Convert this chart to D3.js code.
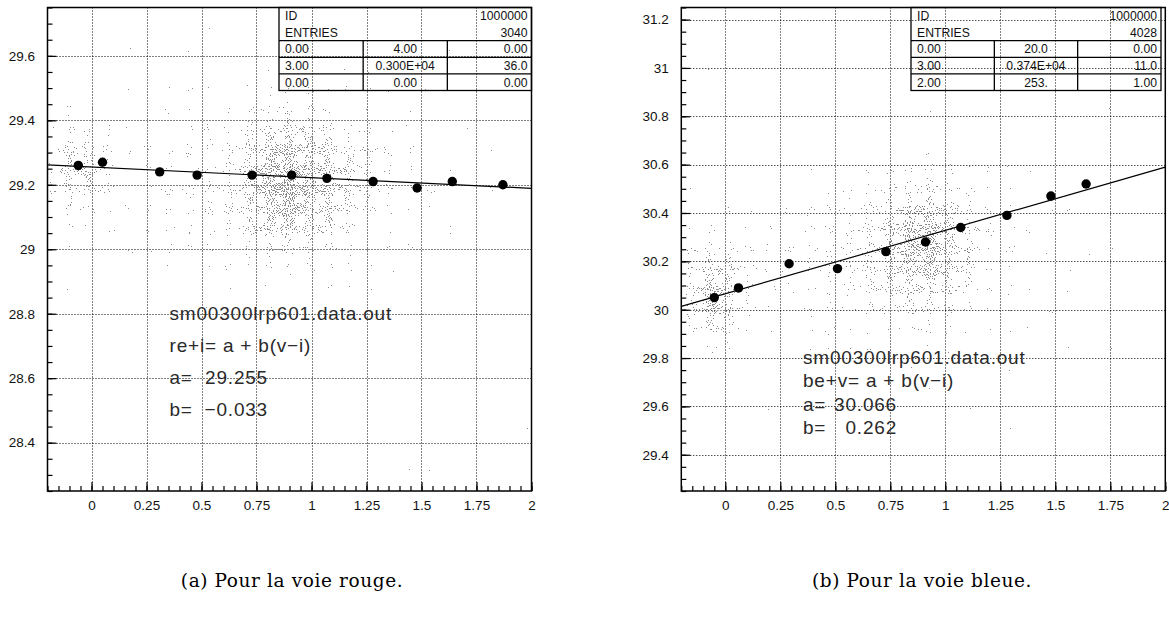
<!DOCTYPE html>
<html><head><meta charset="utf-8">
<script src="https://cdn.jsdelivr.net/npm/d3@7"></script>
<style>
body{margin:0;background:#fff;}
svg{display:block;}
</style></head>
<body>
<script>
// ---------- data ----------
const xDomain = [-0.2, 2];
const xTicks = [0, 0.25, 0.5, 0.75, 1, 1.25, 1.5, 1.75, 2];
const xTickLabels = ["0", "0.25", "0.5", "0.75", "1", "1.25", "1.5", "1.75", "2"];

// panel (a) voie rouge
const yDomainA = [28.25, 29.75];
const yTicksA = [28.4, 28.6, 28.8, 29, 29.2, 29.4, 29.6];
const yTickLabelsA = ["28.4", "28.6", "28.8", "29", "29.2", "29.4", "29.6"];
const pointsAx = [-0.06, 0.05, 0.31, 0.48, 0.73, 0.91, 1.07, 1.28, 1.48, 1.64, 1.87];
const pointsAy = [29.26, 29.27, 29.24, 29.23, 29.23, 29.23, 29.22, 29.21, 29.19, 29.21, 29.20];
const fitA = { a: 29.255, b: -0.033 };
const statsA = [["ID", "", "1000000"], ["ENTRIES", "", "3040"], ["0.00", "4.00", "0.00"], ["3.00", "0.300E+04", "36.0"], ["0.00", "0.00", "0.00"]];
const textA = ["sm00300lrp601.data.out", "re+i= a + b(v\u2212i)"];
const coefLabelsA = ["a=", "b="];
const coefValuesA = ["29.255", "\u22120.033"];
// density of the scatter clouds (centre, half-width, half-height in data units, relative density)
const cloudAx = [0.80, 1.10, 0.88, 0.87, -0.06];
const cloudAy = [29.20, 29.22, 29.20, 29.20, 29.25];
const cloudArx = [1.30, 0.35, 0.30, 0.14, 0.22];
const cloudAry = [0.55, 0.22, 0.32, 0.16, 0.22];
const cloudAw = [0.45, 0.40, 0.60, 0.60, 0.60];

// panel (b) voie bleue
const yDomainB = [29.25, 31.25];
const yTicksB = [29.4, 29.6, 29.8, 30, 30.2, 30.4, 30.6, 30.8, 31, 31.2];
const yTickLabelsB = ["29.4", "29.6", "29.8", "30", "30.2", "30.4", "30.6", "30.8", "31", "31.2"];
const pointsBx = [-0.05, 0.06, 0.29, 0.51, 0.73, 0.91, 1.07, 1.28, 1.48, 1.64];
const pointsBy = [30.05, 30.09, 30.19, 30.17, 30.24, 30.28, 30.34, 30.39, 30.47, 30.52];
const fitB = { a: 30.066, b: 0.262 };
const statsB = [["ID", "", "1000000"], ["ENTRIES", "", "4028"], ["0.00", "20.0", "0.00"], ["3.00", "0.374E+04", "11.0"], ["2.00", "253.", "1.00"]];
const textB = ["sm00300lrp601.data.out", "be+v= a + b(v\u2212i)"];
const coefLabelsB = ["a=", "b="];
const coefValuesB = ["30.066", "0.262"];
const cloudBx = [0.75, 0.90, 0.90, -0.05, -0.05];
const cloudBy = [30.20, 30.28, 30.28, 30.05, 30.06];
const cloudBrx = [1.30, 0.32, 0.15, 0.24, 0.10];
const cloudBry = [0.70, 0.42, 0.18, 0.34, 0.14];
const cloudBw = [0.45, 0.60, 0.55, 0.62, 0.50];

const captions = ["(a) Pour la voie rouge.", "(b) Pour la voie bleue."];

// ---------- layout ----------
const W = 1169, H = 622;
const svg = d3.select("body").append("svg").attr("width", W).attr("height", H);
const defs = svg.append("defs");

const grad = defs.append("radialGradient").attr("id", "fade");
grad.append("stop").attr("offset", "0%").attr("stop-color", "#000").attr("stop-opacity", 1);
grad.append("stop").attr("offset", "40%").attr("stop-color", "#000").attr("stop-opacity", 0.65);
grad.append("stop").attr("offset", "100%").attr("stop-color", "#000").attr("stop-opacity", 0);

const fontSans = "'Liberation Sans', Arial, Helvetica, sans-serif";

function stippleFilter(id, x0, y0, w, h, seed) {
  const f = defs.append("filter").attr("id", id).attr("filterUnits", "userSpaceOnUse")
    .attr("x", x0).attr("y", y0).attr("width", w).attr("height", h)
    .attr("color-interpolation-filters", "sRGB");
  f.append("feTurbulence").attr("type", "fractalNoise").attr("baseFrequency", 0.95)
    .attr("numOctaves", 1).attr("seed", seed).attr("result", "noise");
  f.append("feComposite").attr("in", "SourceAlpha").attr("in2", "noise").attr("operator", "arithmetic")
    .attr("k1", 0).attr("k2", 0.31).attr("k3", -1).attr("k4", 0.664).attr("result", "mix");
  const ct = f.append("feComponentTransfer").attr("in", "mix").attr("result", "thr");
  ct.append("feFuncR").attr("type", "discrete").attr("tableValues", "0 0");
  ct.append("feFuncG").attr("type", "discrete").attr("tableValues", "0 0");
  ct.append("feFuncB").attr("type", "discrete").attr("tableValues", "0 0");
  ct.append("feFuncA").attr("type", "discrete").attr("tableValues", "0 1");
  f.append("feFlood").attr("flood-color", "#8a8a8a").attr("result", "col");
  f.append("feComposite").attr("in", "col").attr("in2", "thr").attr("operator", "in");
}

function panel(cfg) {
  const x = d3.scaleLinear().domain(xDomain).range([cfg.x0, cfg.x1]);
  const y = d3.scaleLinear().domain(cfg.yDomain).range([491, 7.5]);
  const g = svg.append("g");

  // grid
  const grid = g.append("g").attr("stroke", "#000").attr("stroke-width", 1).attr("stroke-dasharray", "1,2");
  grid.selectAll(".gx").data(xTicks.filter(v => v < xDomain[1])).join("line")
    .attr("x1", d => Math.round(x(d)) + 0.5).attr("x2", d => Math.round(x(d)) + 0.5)
    .attr("y1", 7.5).attr("y2", 491);
  grid.selectAll(".gy").data(cfg.yTicks).join("line")
    .attr("y1", d => Math.round(y(d)) + 0.5).attr("y2", d => Math.round(y(d)) + 0.5)
    .attr("x1", cfg.x0).attr("x2", cfg.x1);

  // scatter clouds rendered as stippling whose density follows the cloud ellipses
  const fid = "stip" + cfg.id;
  stippleFilter(fid, cfg.x0 + 1, 8.5, cfg.x1 - cfg.x0 - 2, 491 - 9.5, cfg.seed);
  const clouds = cfg.cx.map((v, i) => ({ x: v, y: cfg.cy[i], rx: cfg.crx[i], ry: cfg.cry[i], w: cfg.cw[i] }));
  const cg = g.append("g").attr("filter", `url(#${fid})`);
  cg.append("rect").attr("x", cfg.x0).attr("y", 7.5).attr("width", cfg.x1 - cfg.x0).attr("height", 491 - 7.5)
    .attr("fill", "#000").attr("fill-opacity", 0.001);
  cg.selectAll("ellipse").data(clouds).join("ellipse")
    .attr("cx", d => x(d.x)).attr("cy", d => y(d.y))
    .attr("rx", d => x(d.x + d.rx) - x(d.x)).attr("ry", d => y(d.y) - y(d.y + d.ry))
    .attr("fill", "url(#fade)").attr("fill-opacity", d => d.w);

  // fit line
  g.append("line")
    .attr("x1", x(xDomain[0])).attr("y1", y(cfg.fit.a + cfg.fit.b * xDomain[0]))
    .attr("x2", x(xDomain[1])).attr("y2", y(cfg.fit.a + cfg.fit.b * xDomain[1]))
    .attr("stroke", "#000").attr("stroke-width", 1.2);

  // points
  g.selectAll(".pt").data(cfg.px.map((v, i) => [v, cfg.py[i]])).join("circle")
    .attr("cx", d => x(d[0])).attr("cy", d => y(d[1])).attr("r", 4.7).attr("fill", "#000");

  // stats box
  const bx0 = cfg.box[0], bx1 = cfg.box[1], by0 = 7.5, rh = 16.6;
  const d1 = bx0 + (bx1 - bx0) / 3, d2 = bx0 + 2 * (bx1 - bx0) / 3;
  const sb = g.append("g");
  sb.append("rect").attr("x", bx0).attr("y", by0).attr("width", bx1 - bx0).attr("height", rh * 5)
    .attr("fill", "none").attr("stroke", "#000").attr("stroke-width", 1.3);
  [2, 3, 4].forEach(r => sb.append("line").attr("x1", bx0).attr("x2", bx1)
    .attr("y1", by0 + r * rh).attr("y2", by0 + r * rh).attr("stroke", "#000").attr("stroke-width", 1.3));
  [d1, d2].forEach(dx => sb.append("line").attr("x1", dx).attr("x2", dx)
    .attr("y1", by0 + 2 * rh).attr("y2", by0 + 5 * rh).attr("stroke", "#000").attr("stroke-width", 1.3));
  cfg.stats.forEach((row, r) => {
    const cyT = by0 + (r + 0.5) * rh;
    const t = (txt, xx, anchor) => sb.append("text").attr("x", xx).attr("y", cyT)
      .attr("dy", "0.36em").attr("text-anchor", anchor).attr("font-family", fontSans)
      .attr("font-size", 12.2).attr("fill", "#111").text(txt);
    t(row[0], bx0 + 6, "start");
    if (row[1]) t(row[1], (d1 + d2) / 2, "middle");
    t(row[2], bx1 - 4, "end");
  });

  // annotation text
  const ann = g.append("g").attr("font-family", fontSans).attr("font-size", 19)
    .attr("letter-spacing", 0.8).attr("fill", "#2a2a2a");
  cfg.text.forEach((s, i) => ann.append("text").attr("x", cfg.tx).attr("y", cfg.ty + i * cfg.tdy)
    .attr("dy", "0.36em").text(s));
  cfg.coefL.forEach((s, i) => {
    ann.append("text").attr("x", cfg.tx).attr("y", cfg.ty + (i + 2) * cfg.tdy).attr("dy", "0.36em").text(s);
    ann.append("text").attr("x", cfg.vEnd).attr("y", cfg.ty + (i + 2) * cfg.tdy).attr("dy", "0.36em")
      .attr("text-anchor", "end").text(cfg.coefV[i]);
  });

  // axes
  const minorX = d3.range(-0.2, 2.0001, 0.05).map(v => +v.toFixed(2));
  const minorY = d3.range(Math.ceil(cfg.yDomain[0] / 0.05) * 0.05, cfg.yDomain[1] + 1e-6, 0.05).map(v => +v.toFixed(2));
  const ax = g.append("g").attr("transform", "translate(0,491)");
  ax.call(d3.axisBottom(x).tickValues(minorX).tickSize(-5).tickFormat(""));
  ax.call(g2 => g2.append("g").call(d3.axisBottom(x).tickValues(xTicks).tickSize(-9).tickPadding(9)
    .tickFormat((d, i) => xTickLabels[i])));
  const ay = g.append("g").attr("transform", `translate(${cfg.x0},0)`);
  ay.call(d3.axisLeft(y).tickValues(minorY).tickSize(-5).tickFormat(""));
  ay.call(g2 => g2.append("g").call(d3.axisLeft(y).tickValues(cfg.yTicks).tickSize(-9).tickPadding(12.5)
    .tickFormat((d, i) => cfg.yLabels[i])));
  g.selectAll(".domain").remove();
  g.selectAll(".tick line").attr("stroke", "#000").attr("stroke-width", 1.2);
  g.selectAll(".tick text").attr("font-family", fontSans).attr("font-size", 13.5).attr("fill", "#111");

  // frame
  g.append("rect").attr("x", cfg.x0).attr("y", 7.5).attr("width", cfg.x1 - cfg.x0).attr("height", 491 - 7.5)
    .attr("fill", "none").attr("stroke", "#000").attr("stroke-width", 1.5);

  // caption
  svg.append("text").attr("x", cfg.capX).attr("y", 580).attr("dy", "0.36em").attr("text-anchor", "middle")
    .attr("font-family", "'DejaVu Serif', 'Liberation Serif', serif").attr("font-size", 18.5)
    .attr("letter-spacing", 0.6).attr("fill", "#000").text(cfg.caption);
}

panel({ id: "A", seed: 3, x0: 47.5, x1: 531.5, yDomain: yDomainA, yTicks: yTicksA, yLabels: yTickLabelsA,
  px: pointsAx, py: pointsAy, fit: fitA, stats: statsA, box: [279, 531.5],
  cx: cloudAx, cy: cloudAy, crx: cloudArx, cry: cloudAry, cw: cloudAw,
  text: textA, coefL: coefLabelsA, coefV: coefValuesA, tx: 169.5, ty: 312.7, tdy: 32.2, vEnd: 268,
  caption: captions[0], capX: 292 });
panel({ id: "B", seed: 11, x0: 681.3, x1: 1165.3, yDomain: yDomainB, yTicks: yTicksB, yLabels: yTickLabelsB,
  px: pointsBx, py: pointsBy, fit: fitB, stats: statsB, box: [911, 1161],
  cx: cloudBx, cy: cloudBy, crx: cloudBrx, cry: cloudBry, cw: cloudBw,
  text: textB, coefL: coefLabelsB, coefV: coefValuesB, tx: 803, ty: 356.7, tdy: 23.5, vEnd: 897,
  caption: captions[1], capX: 922 });
</script>
</body></html>
